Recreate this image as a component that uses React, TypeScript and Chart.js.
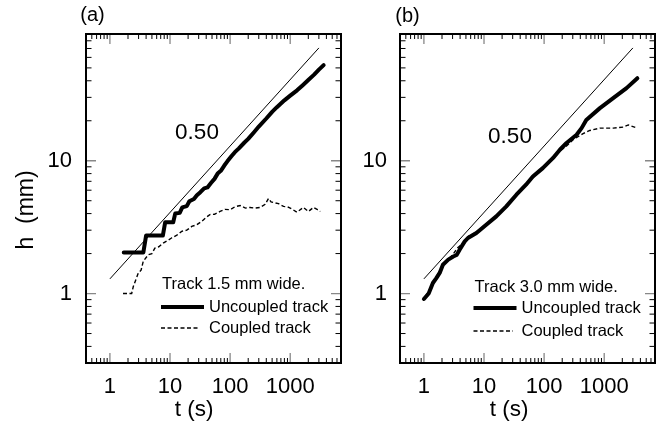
import React, { useEffect, useRef } from "react";
import { Chart, registerables } from "chart.js";

Chart.register(...registerables);

// ---------- data ----------
const xTickValues = [1, 10, 100, 1000];
const yTickValues = [1, 10];

const tRef = [1, 3000];
const hRef = [1.29, 70.7];

// panel (a): track 1.5 mm wide
const tUncA = [1.7, 3.6, 4.0, 7.6, 8.3, 11.3, 12.2, 14.5, 16, 19, 21, 25, 28, 32, 37, 42, 48, 55, 62, 70, 80, 90, 105, 120, 140, 170, 200, 250, 300, 400, 500, 600, 800, 1000, 1300, 1600, 2000, 2500, 3000, 3600];
const hUncA = [2.04, 2.04, 2.73, 2.73, 3.44, 3.44, 4.0, 4.05, 4.45, 4.55, 4.95, 5.15, 5.5, 5.8, 6.2, 6.3, 6.8, 7.3, 8.0, 8.4, 9.2, 9.9, 10.8, 11.6, 12.4, 13.6, 14.6, 16.4, 18.1, 20.8, 23.3, 25.3, 28.5, 30.9, 33.9, 36.9, 40.5, 44.5, 48.5, 52.5];

const tCoupA = [1.65, 2.3, 2.45, 2.97, 3.3, 3.59, 4.35, 5.0, 5.6, 6.5, 7.7, 9.0, 10.6, 13, 15.6, 19, 23, 28, 33.8, 40, 46, 55, 68, 82, 100, 120, 147, 180, 215, 260, 316, 383, 435, 480, 527, 640, 774, 900, 1065, 1290, 1660, 2010, 2440, 2800, 3160];
const hCoupA = [1.0, 1.0, 1.13, 1.43, 1.5, 1.75, 1.96, 2.0, 2.2, 2.25, 2.4, 2.5, 2.62, 2.75, 2.94, 3.0, 3.2, 3.3, 3.5, 3.75, 3.93, 3.95, 4.15, 4.3, 4.28, 4.5, 4.6, 4.4, 4.45, 4.4, 4.45, 4.7, 5.2, 4.9, 4.85, 4.75, 4.53, 4.5, 4.33, 4.1, 4.45, 4.15, 4.45, 4.3, 4.15];

// panel (b): track 3.0 mm wide
const tUncB = [1.0, 1.2, 1.41, 1.6, 1.83, 2.07, 2.54, 3.08, 3.5, 3.93, 4.78, 5.4, 7.47, 10.9, 16, 23.5, 34.6, 50, 65, 95, 141, 183, 236, 347, 420, 503, 848, 1410, 2350, 3560];
const hUncB = [0.91, 1.0, 1.2, 1.3, 1.43, 1.65, 1.8, 1.9, 1.95, 2.14, 2.47, 2.62, 2.86, 3.3, 3.81, 4.53, 5.55, 6.6, 7.6, 8.8, 10.5, 12.1, 13.6, 15.7, 17.6, 20.3, 24.9, 29.6, 35.2, 41.8];

const tCoupB = [1.05, 1.3, 1.6, 2.0, 2.5, 3.0, 3.6, 4.5, 5.5, 7.5, 10, 15, 22, 33, 50, 70, 100, 140, 190, 230, 304, 445, 575, 848, 1410, 2070, 2520, 3560];
const hCoupB = [0.95, 1.1, 1.3, 1.6, 1.78, 1.95, 2.2, 2.4, 2.7, 2.9, 3.25, 3.75, 4.4, 5.4, 6.6, 7.7, 9.0, 10.4, 12.0, 12.8, 14.4, 16.0, 16.9, 17.6, 17.6, 17.9, 18.6, 17.6];

// ---------- styling ----------
const FONT = '"Liberation Sans", Arial, Helvetica, sans-serif';

const zip = (xs: number[], ys: number[]) => xs.map((x, i) => ({ x, y: ys[i] }));

type PanelCfg = {
  left: number;
  width: number;
  yAxisWidth: number;
  padRight: number;
  yLabelPad: number;
  label: string;
  labelPos: [number, number];
  slopePos: [number, number];
  xTitlePos: [number, number];
  yTitle: boolean;
  legendTitle: string;
  legendTitleY: number;
  legendRows: [number, number];
  legendLineX: [number, number];
  legendDashEnd: number;
  legendTextX: number;
  tUnc: number[];
  hUnc: number[];
  tCoup: number[];
  hCoup: number[];
};

function makeDecor(cfg: PanelCfg) {
  return {
    id: "decor",
    beforeDatasetsDraw(chart: any) {
      const { ctx, chartArea: a, scales } = chart;
      const xs = scales.x;
      const ys = scales.y;
      ctx.save();
      for (let d = -1; d <= 3; d++) {
        for (let m = 1; m <= 9; m++) {
          const v = m * Math.pow(10, d);
          const px = xs.getPixelForValue(v);
          if (px < a.left + 1 || px > a.right - 1) continue;
          const major = m === 1;
          const len = major ? 10 : 5;
          ctx.strokeStyle = major ? "#888" : "#000";
          ctx.lineWidth = major ? 1.3 : 1;
          ctx.beginPath();
          ctx.moveTo(px, a.bottom);
          ctx.lineTo(px, a.bottom - len);
          ctx.moveTo(px, a.top);
          ctx.lineTo(px, a.top + len);
          ctx.stroke();
        }
      }
      for (let d = -1; d <= 1; d++) {
        for (let m = 1; m <= 9; m++) {
          const v = m * Math.pow(10, d);
          const py = ys.getPixelForValue(v);
          if (py < a.top + 1 || py > a.bottom - 1) continue;
          const major = m === 1;
          const len = major ? 10 : 5.5;
          ctx.strokeStyle = major ? "#888" : "#000";
          ctx.lineWidth = major ? 1.3 : 1;
          ctx.beginPath();
          ctx.moveTo(a.left, py);
          ctx.lineTo(a.left + len, py);
          ctx.moveTo(a.right, py);
          ctx.lineTo(a.right - len, py);
          ctx.stroke();
        }
      }
      ctx.restore();
    },
    afterDraw(chart: any) {
      const { ctx, chartArea: a } = chart;
      ctx.save();
      ctx.strokeStyle = "#000";
      ctx.lineWidth = 2;
      ctx.strokeRect(a.left, a.top, a.right - a.left, a.bottom - a.top);

      ctx.fillStyle = "#000";
      ctx.textBaseline = "middle";
      ctx.textAlign = "center";
      ctx.font = `20px ${FONT}`;
      ctx.fillText(cfg.label, cfg.labelPos[0], cfg.labelPos[1]);
      ctx.font = `22.5px ${FONT}`;
      ctx.fillText("0.50", cfg.slopePos[0], cfg.slopePos[1]);
      ctx.fillText("t (s)", cfg.xTitlePos[0], cfg.xTitlePos[1]);
      if (cfg.yTitle) {
        ctx.save();
        ctx.translate(27, 210);
        ctx.rotate(-Math.PI / 2);
        ctx.font = `23px ${FONT}`;
        ctx.fillText("h  (mm)", 0, 0);
        ctx.restore();
      }

      // legend
      ctx.font = `16.5px ${FONT}`;
      ctx.textAlign = "left";
      ctx.fillText(cfg.legendTitle, cfg.legendLineX[0] + 1, cfg.legendTitleY);
      const [r1, r2] = cfg.legendRows;
      ctx.lineWidth = 4;
      ctx.beginPath();
      ctx.moveTo(cfg.legendLineX[0], r1);
      ctx.lineTo(cfg.legendLineX[1], r1);
      ctx.stroke();
      ctx.lineWidth = 1.4;
      ctx.setLineDash([4, 2.5]);
      ctx.beginPath();
      ctx.moveTo(cfg.legendLineX[0], r2);
      ctx.lineTo(cfg.legendDashEnd, r2);
      ctx.stroke();
      ctx.setLineDash([]);
      ctx.fillText("Uncoupled track", cfg.legendTextX, r1);
      ctx.fillText("Coupled track", cfg.legendTextX, r2);
      ctx.restore();
    },
  };
}

function Panel({ cfg }: { cfg: PanelCfg }) {
  const ref = useRef<HTMLCanvasElement | null>(null);
  useEffect(() => {
    if (!ref.current) return;
    const chart = new Chart(ref.current, {
      type: "line",
      data: {
        datasets: [
          {
            data: zip(tRef, hRef),
            borderColor: "#000",
            borderWidth: 1,
            pointRadius: 0,
            tension: 0,
          },
          {
            data: zip(cfg.tCoup, cfg.hCoup),
            borderColor: "#000",
            borderWidth: 1.4,
            borderDash: [4, 2.5],
            pointRadius: 0,
            tension: 0,
          },
          {
            data: zip(cfg.tUnc, cfg.hUnc),
            borderColor: "#000",
            borderWidth: 4,
            borderJoinStyle: "round",
            borderCapStyle: "round",
            pointRadius: 0,
            tension: 0,
          },
        ],
      },
      options: {
        responsive: false,
        animation: false,
        events: [],
        layout: { padding: { left: 0, top: 34, right: cfg.padRight, bottom: 0 } },
        plugins: { legend: { display: false }, tooltip: { enabled: false }, title: { display: false } },
        scales: {
          x: {
            type: "logarithmic",
            min: 0.4,
            max: 7000,
            afterBuildTicks: (s: any) => {
              s.ticks = xTickValues.map((v) => ({ value: v }));
            },
            afterFit: (s: any) => {
              s.height = 69;
            },
            grid: { display: false, drawTicks: false },
            border: { display: false },
            ticks: {
              autoSkip: false,
              maxRotation: 0,
              padding: 11,
              color: "#000",
              font: { family: FONT, size: 22 },
              callback: (v: any) => String(v),
            },
          },
          y: {
            type: "logarithmic",
            min: 0.3,
            max: 90,
            afterBuildTicks: (s: any) => {
              s.ticks = yTickValues.map((v) => ({ value: v }));
            },
            afterFit: (s: any) => {
              s.width = cfg.yAxisWidth;
            },
            grid: { display: false, drawTicks: false },
            border: { display: false },
            ticks: {
              autoSkip: false,
              padding: cfg.yLabelPad,
              color: "#000",
              font: { family: FONT, size: 22 },
              callback: (v: any) => String(v),
            },
          },
        },
      },
      plugins: [makeDecor(cfg)],
    } as any);
    return () => chart.destroy();
  }, [cfg]);
  return (
    <canvas
      ref={ref}
      width={cfg.width}
      height={432}
      style={{ position: "absolute", left: cfg.left, top: 0, width: cfg.width, height: 432 }}
    />
  );
}

const panelA: PanelCfg = {
  left: 0,
  width: 345,
  yAxisWidth: 86,
  padRight: 4,
  yLabelPad: 14,
  label: "(a)",
  labelPos: [92.5, 15.5],
  slopePos: [197, 133],
  xTitlePos: [194, 410],
  yTitle: true,
  legendTitle: "Track 1.5 mm wide.",
  legendTitleY: 284,
  legendRows: [307, 328],
  legendLineX: [161, 204],
  legendDashEnd: 200,
  legendTextX: 209,
  tUnc: tUncA,
  hUnc: hUncA,
  tCoup: tCoupA,
  hCoup: hCoupA,
};

const panelB: PanelCfg = {
  left: 345,
  width: 318,
  yAxisWidth: 55,
  padRight: 8,
  yLabelPad: 13,
  label: "(b)",
  labelPos: [62.5, 16],
  slopePos: [165, 137],
  xTitlePos: [164, 410],
  yTitle: false,
  legendTitle: "Track 3.0 mm wide.",
  legendTitleY: 287,
  legendRows: [308, 331],
  legendLineX: [128.5, 171.5],
  legendDashEnd: 168,
  legendTextX: 176.5,
  tUnc: tUncB,
  hUnc: hUncB,
  tCoup: tCoupB,
  hCoup: hCoupB,
};

export default function App() {
  return (
    <div style={{ position: "fixed", left: 0, top: 0, width: 663, height: 432, background: "#fff" }}>
      <Panel cfg={panelA} />
      <Panel cfg={panelB} />
    </div>
  );
}
